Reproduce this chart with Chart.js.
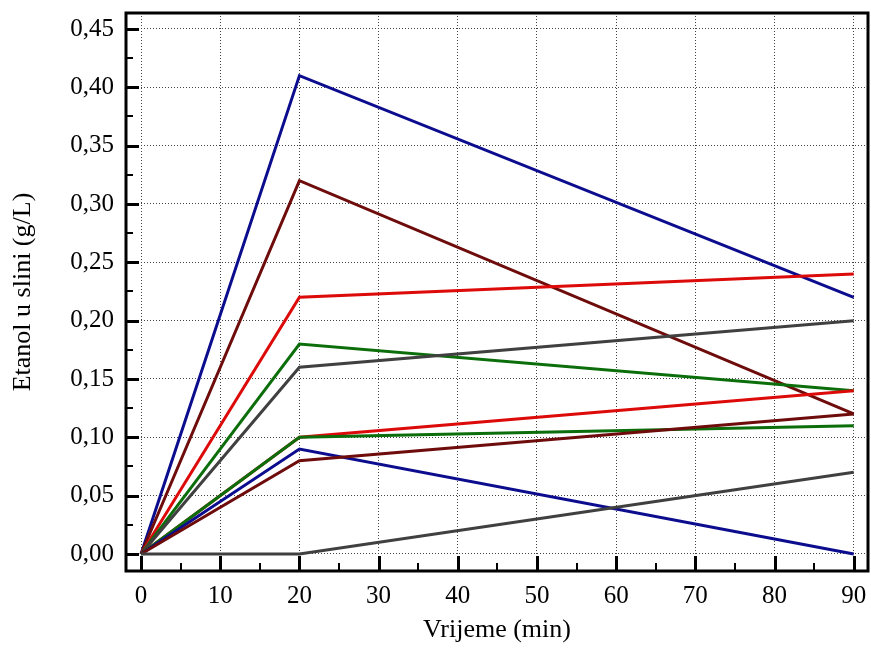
<!DOCTYPE html>
<html>
<head>
<meta charset="utf-8">
<script src="https://cdn.jsdelivr.net/npm/chart.js@4/dist/chart.umd.min.js"></script>
<style>
  html, body { margin: 0; padding: 0; background: #fff; }
  #wrap { width: 871px; height: 648px; }
</style>
</head>
<body>
<div id="wrap"><canvas id="chart"></canvas></div>
<script>
// Data
const times = [0, 20, 90];
const blueHigh = [0, 0.41, 0.22];
const maroonHigh = [0, 0.32, 0.12];
const redHigh = [0, 0.22, 0.24];
const greenHigh = [0, 0.18, 0.14];
const grayHigh = [0, 0.16, 0.20];
const redLow = [0, 0.10, 0.14];
const greenLow = [0, 0.10, 0.11];
const blueLow = [0, 0.09, 0.00];
const maroonLow = [0, 0.08, 0.12];
const grayLow = [0, 0.00, 0.07];

const xTicks = [0, 10, 20, 30, 40, 50, 60, 70, 80, 90];
const yTicks = [0, 0.05, 0.10, 0.15, 0.20, 0.25, 0.30, 0.35, 0.40, 0.45];

const BLUE = "#0c0c8e";
const MAROON = "#6e0c0c";
const RED = "#dd0a0a";
const GREEN = "#0b6e0b";
const GRAY = "#404040";

function series(values, color) {
  return {
    data: values.map((v, i) => ({ x: times[i], y: v })),
    borderColor: color,
    borderWidth: 3,
    pointRadius: 0,
    fill: false,
    tension: 0,
  };
}

// frame and inward tick marks
const frameTicks = {
  id: "frameTicks",
  afterDraw(chart) {
    const ctx = chart.ctx;
    const a = chart.chartArea;
    const xs = chart.scales.x;
    const ys = chart.scales.y;
    ctx.save();
    ctx.strokeStyle = "#000";
    ctx.lineCap = "butt";
    // major ticks
    ctx.lineWidth = 3;
    xTicks.forEach((t) => {
      const px = Math.round(xs.getPixelForValue(t)) + 0.5;
      ctx.beginPath();
      ctx.moveTo(px, a.bottom);
      ctx.lineTo(px, a.bottom - 15);
      ctx.stroke();
    });
    yTicks.forEach((t) => {
      const py = Math.round(ys.getPixelForValue(t)) + 0.5;
      ctx.beginPath();
      ctx.moveTo(a.left, py);
      ctx.lineTo(a.left + 13, py);
      ctx.stroke();
    });
    // minor ticks
    ctx.lineWidth = 2;
    for (let i = 0; i < xTicks.length - 1; i++) {
      const px = Math.round(xs.getPixelForValue(xTicks[i] + 5));
      ctx.beginPath();
      ctx.moveTo(px, a.bottom);
      ctx.lineTo(px, a.bottom - 8);
      ctx.stroke();
    }
    for (let i = 0; i < yTicks.length - 1; i++) {
      const py = Math.round(ys.getPixelForValue(yTicks[i] + 0.025));
      ctx.beginPath();
      ctx.moveTo(a.left, py);
      ctx.lineTo(a.left + 7, py);
      ctx.stroke();
    }
    // frame
    ctx.lineWidth = 3;
    ctx.strokeRect(a.left, a.top, a.right - a.left, a.bottom - a.top);
    ctx.restore();
  },
};

const ctx = document.getElementById("chart").getContext("2d");
new Chart(ctx, {
  type: "line",
  data: {
    datasets: [
      series(grayLow, GRAY),
      series(maroonLow, MAROON),
      series(blueLow, BLUE),
      series(greenLow, GREEN),
      series(redLow, RED),
      series(grayHigh, GRAY),
      series(greenHigh, GREEN),
      series(redHigh, RED),
      series(maroonHigh, MAROON),
      series(blueHigh, BLUE),
    ],
  },
  options: {
    responsive: true,
    maintainAspectRatio: false,
    animation: false,
    layout: { padding: { left: 0, top: 13, right: 3, bottom: 0 } },
    plugins: {
      legend: { display: false },
      tooltip: { enabled: false },
    },
    scales: {
      x: {
        type: "linear",
        min: -1.9,
        max: 91.8,
        afterBuildTicks: (s) => { s.ticks = xTicks.map((v) => ({ value: v })); },
        afterFit: (s) => { s.height = 77; s.paddingLeft = 0; s.paddingRight = 0; },
        grid: { color: "#444", lineWidth: 1, drawTicks: false },
        border: { display: false, dash: [1, 2] },
        ticks: {
          padding: 10,
          color: "#000",
          font: { family: "Liberation Serif", size: 25 },
          callback: (v) => String(v),
        },
        title: {
          display: true,
          text: "Vrijeme (min)",
          color: "#000",
          font: { family: "Liberation Serif", size: 26 },
          padding: { top: 0, bottom: 2 },
        },
      },
      y: {
        type: "linear",
        min: -0.0146,
        max: 0.4637,
        afterBuildTicks: (s) => { s.ticks = yTicks.map((v) => ({ value: v })); },
        afterFit: (s) => { s.width = 126; s.paddingTop = 0; s.paddingBottom = 0; },
        grid: { color: "#444", lineWidth: 1, drawTicks: false },
        border: { display: false, dash: [1, 2] },
        ticks: {
          padding: 12,
          color: "#000",
          font: { family: "Liberation Serif", size: 25 },
          callback: (v) => v.toFixed(2).replace(".", ","),
        },
        title: {
          display: true,
          text: "Etanol u slini (g/L)",
          color: "#000",
          font: { family: "Liberation Serif", size: 26 },
          padding: { top: 8, bottom: 0 },
        },
      },
    },
  },
  plugins: [frameTicks],
});
</script>
</body>
</html>
